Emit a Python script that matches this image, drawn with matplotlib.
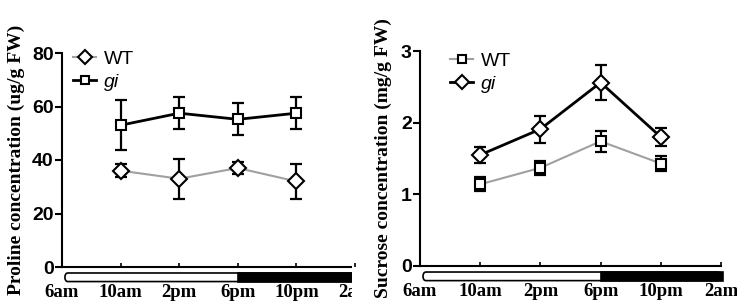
import matplotlib.pyplot as plt
from matplotlib.patches import FancyBboxPatch, Rectangle
from matplotlib.transforms import Bbox, TransformedBbox, blended_transform_factory

# hours after 6am
hours = [4, 8, 12, 16]
tick_hours = [0, 4, 8, 12, 16, 20]
tick_labels = ["6am", "10am", "2pm", "6pm", "10pm", "2am"]

proline_wt = [36.0, 33.0, 37.0, 32.0]
proline_wt_err = [2.5, 7.5, 2.2, 6.4]
proline_gi = [53.0, 57.5, 55.2, 57.5]
proline_gi_err = [9.3, 6.0, 6.0, 6.0]

sucrose_wt = [1.14, 1.37, 1.74, 1.43]
sucrose_wt_err = [0.10, 0.10, 0.15, 0.10]
sucrose_gi = [1.55, 1.91, 2.56, 1.80]
sucrose_gi_err = [0.11, 0.19, 0.25, 0.12]

W, H = 737, 307
fig = plt.figure(figsize=(W / 100, H / 100), dpi=100)

sans = ["Liberation Sans", "DejaVu Sans"]
serif = ["Liberation Serif", "DejaVu Serif"]
gray = "#a0a0a0"


def series(ax, y, err, marker, color, lw, label, ms):
    ax.errorbar(hours, y, yerr=err, fmt="none", ecolor="black",
                elinewidth=1.6, capsize=4.5, capthick=1.6, zorder=2)
    ax.plot(hours, y, color=color, lw=lw, marker=marker, ms=ms,
            mfc="white", mec="black", mew=1.5, label=label, zorder=3)


def style(ax, ylim, yticks, ylabel, clip=None):
    ax.set_xlim(0, 20)
    ax.set_ylim(*ylim)
    ax.set_yticks(yticks)
    for s in ["top", "right"]:
        ax.spines[s].set_visible(False)
    for s in ["left", "bottom"]:
        ax.spines[s].set_linewidth(1.5)
    ax.tick_params(axis="y", direction="out", length=5, width=1.5, pad=1,
                   labelsize=14)
    for t in ax.get_yticklabels():
        t.set_family(sans)
        t.set_fontweight("bold")
    ax.set_xticks(tick_hours, tick_labels)
    ax.tick_params(axis="x", direction="in", length=3, width=1.2, pad=12.5,
                   labelsize=13.5)
    for t in ax.get_xticklabels():
        t.set_family(serif)
        t.set_fontweight("bold")
    ax.set_ylabel(ylabel, family=serif, fontweight="bold", fontsize=14)

    # light / dark bar under the axis
    tr = blended_transform_factory(ax.transData, ax.transAxes)
    light = FancyBboxPatch((0.2, -0.068), 19.8, 0.040,
                           boxstyle="round,pad=0,rounding_size=0.2",
                           transform=tr, fc="white", ec="black", lw=1.2,
                           clip_on=False, mutation_aspect=0.1)
    dark = Rectangle((12, -0.068), 8.1, 0.040, transform=tr, fc="black",
                     ec="black", lw=1.2, clip_on=False)
    ax.add_patch(light)
    ax.add_patch(dark)
    if clip is not None:
        for p in [light, dark, ax.spines["bottom"]]:
            p.set_clip_box(clip)
            p.set_clip_on(True)
        lab = ax.xaxis.get_major_ticks()[-1].label1
        lab.set_clip_box(clip)
        lab.set_clip_on(True)


def add_legend(ax, x, y):
    leg = ax.legend(loc="upper left", bbox_to_anchor=(x, y), frameon=False,
                    borderpad=0, borderaxespad=0, handlelength=1.2,
                    handletextpad=0.4, labelspacing=0.28, markerscale=0.8,
                    prop={"family": sans, "size": 14})
    leg.get_texts()[1].set_style("italic")


clip_left = TransformedBbox(Bbox.from_extents(0, 0, 352 / W, 1), fig.transFigure)

# left: proline
ax1 = fig.add_axes([62 / W, 40 / H, 293 / W, 214 / H])
series(ax1, proline_wt, proline_wt_err, "D", gray, 1.5, "WT", 8.5)
series(ax1, proline_gi, proline_gi_err, "s", "black", 2.0, "gi", 7)
style(ax1, (0, 80), [0, 20, 40, 60, 80], "Proline concentration (ug/g FW)",
      clip_left)
ax1.yaxis.set_label_coords(-0.125, 0.5)
add_legend(ax1, 0.0375, 1.012)

# right: sucrose
ax2 = fig.add_axes([420 / W, 41 / H, 301 / W, 215 / H])
series(ax2, sucrose_wt, sucrose_wt_err, "s", gray, 1.5, "WT", 7)
series(ax2, sucrose_gi, sucrose_gi_err, "D", "black", 2.0, "gi", 8.5)
style(ax2, (0, 3), [0, 1, 2, 3], "Sucrose concentration (mg/g FW)")
ax2.yaxis.set_label_coords(-0.093, 0.5)
add_legend(ax2, 0.10, 0.995)

fig.savefig("out.png", dpi=100)
